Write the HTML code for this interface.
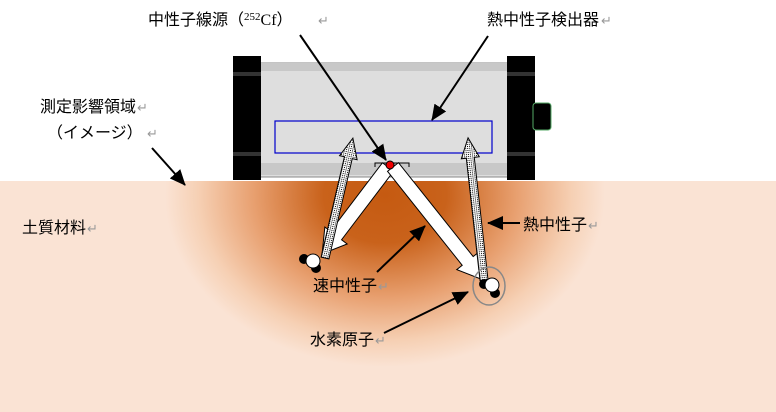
<!DOCTYPE html>
<html><head><meta charset="utf-8"><style>
body{margin:0;background:#fff}
svg{display:block}
text{font-family:"Liberation Serif","Noto Sans CJK JP",sans-serif;font-size:16px;fill:#000}
.r{fill:#999;font-size:13px}
</style></head><body>
<svg width="776" height="412" viewBox="0 0 776 412" xmlns="http://www.w3.org/2000/svg">
<defs>
<radialGradient id="g" cx="385" cy="195" r="1" gradientUnits="userSpaceOnUse" gradientTransform="translate(385 195) scale(220 172) translate(-385 -195)">
<stop offset="0" stop-color="#c55a11"/>
<stop offset="0.28" stop-color="#c9621b"/>
<stop offset="0.6" stop-color="#e8a070"/>
<stop offset="0.85" stop-color="#f6d0b4"/>
<stop offset="1" stop-color="#fae3d4"/>
</radialGradient>
<pattern id="d" width="2" height="2" patternUnits="userSpaceOnUse"><rect width="2" height="2" fill="#fff"/><rect width="1" height="1" fill="#000"/></pattern>
<marker id="b" markerWidth="16" markerHeight="14" refX="15" refY="7" orient="auto" markerUnits="userSpaceOnUse"><path d="M0,0 L16,7 L0,14z" fill="#000"/></marker>
</defs>
<rect x="0" y="181" width="776" height="231" fill="#fae3d4"/>
<ellipse cx="385" cy="195" rx="220" ry="172" fill="url(#g)"/>
<rect x="0" y="0" width="776" height="181" fill="#fff"/>
<!-- detector -->
<rect x="255" y="63" width="258" height="114" fill="#dedede" stroke="#888"/>
<rect x="255" y="63" width="258" height="8" fill="#c8c8c8"/>
<rect x="255" y="163" width="258" height="12" fill="#c8c8c8"/>
<rect x="233" y="56" width="28" height="124" fill="#000"/>
<rect x="507" y="56" width="28" height="124" fill="#000"/>
<rect x="233" y="72" width="28" height="4" fill="#333"/>
<rect x="233" y="152" width="28" height="4" fill="#333"/>
<rect x="507" y="72" width="28" height="4" fill="#333"/>
<rect x="507" y="152" width="28" height="4" fill="#333"/>
<rect x="533" y="103" width="18" height="27" rx="3" fill="#000" stroke="#5a6"/>
<rect x="275" y="121" width="217" height="32" fill="none" stroke="#00c" stroke-width="1.2"/>
<path d="M375,167 V163 H409 V167" fill="none" stroke="#000"/>
<!-- fast neutron arrows -->
<g transform="translate(388 167) rotate(127.2)"><polygon points="0,-7 86,-7 86,-14 109,0 86,14 86,7 0,7" fill="#fff" stroke="#000"/></g>
<g transform="translate(393 167) rotate(51.5)"><polygon points="0,-7 120,-7 120,-14 144,0 120,14 120,7 0,7" fill="#fff" stroke="#000"/></g>
<!-- thermal neutron arrows -->
<g transform="translate(325 258) rotate(-76.9)"><polygon points="0,-4 103,-4 103,-9 123,0 103,9 103,4 0,4" fill="url(#d)" stroke="#000"/></g>
<g transform="translate(484 280) rotate(-96.4)"><polygon points="0,-4 123,-4 123,-9 143,0 123,9 123,4 0,4" fill="url(#d)" stroke="#000"/></g>
<circle cx="390" cy="165" r="4" fill="#e00" stroke="#000"/>
<!-- atoms -->
<circle cx="304" cy="259" r="5" fill="#000"/><circle cx="316" cy="268" r="5" fill="#000"/><circle cx="313" cy="261" r="7" fill="#fff" stroke="#000"/>
<circle cx="484" cy="284" r="5" fill="#000"/><circle cx="495" cy="293" r="5" fill="#000"/><circle cx="492" cy="285" r="7" fill="#fff" stroke="#000"/>
<ellipse cx="489" cy="286" rx="16" ry="19" fill="none" stroke="#888" stroke-width="1.5"/>
<!-- leaders -->
<line x1="300" y1="35" x2="386" y2="160" stroke="#000" stroke-width="2" marker-end="url(#b)"/>
<line x1="488" y1="36" x2="432" y2="120" stroke="#000" stroke-width="2" marker-end="url(#b)"/>
<line x1="152" y1="148" x2="185" y2="185" stroke="#000" stroke-width="2" marker-end="url(#b)"/>
<line x1="520" y1="223" x2="488" y2="223" stroke="#000" stroke-width="2" marker-end="url(#b)"/>
<line x1="377" y1="272" x2="425" y2="226" stroke="#000" stroke-width="2" marker-end="url(#b)"/>
<line x1="384" y1="333" x2="468" y2="292" stroke="#000" stroke-width="2" marker-end="url(#b)"/>
<!-- labels -->
<text x="148" y="25">中性子線源（<tspan font-size="11" dy="-5">252</tspan><tspan dy="5">Cf）</tspan></text><text x="318" y="25" class="r">↵</text>
<text x="487" y="25">熱中性子検出器</text><text x="601" y="25" class="r">↵</text>
<text x="40" y="112">測定影響領域</text><text x="137" y="112" class="r">↵</text>
<text x="47" y="138">（イメージ）</text><text x="147" y="138" class="r">↵</text>
<text x="22" y="233">土質材料</text><text x="87" y="233" class="r">↵</text>
<text x="523" y="230">熱中性子</text><text x="588" y="230" class="r">↵</text>
<text x="313" y="291">速中性子</text><text x="378" y="291" class="r">↵</text>
<text x="310" y="345">水素原子</text><text x="375" y="345" class="r">↵</text>
</svg>
</body></html>
